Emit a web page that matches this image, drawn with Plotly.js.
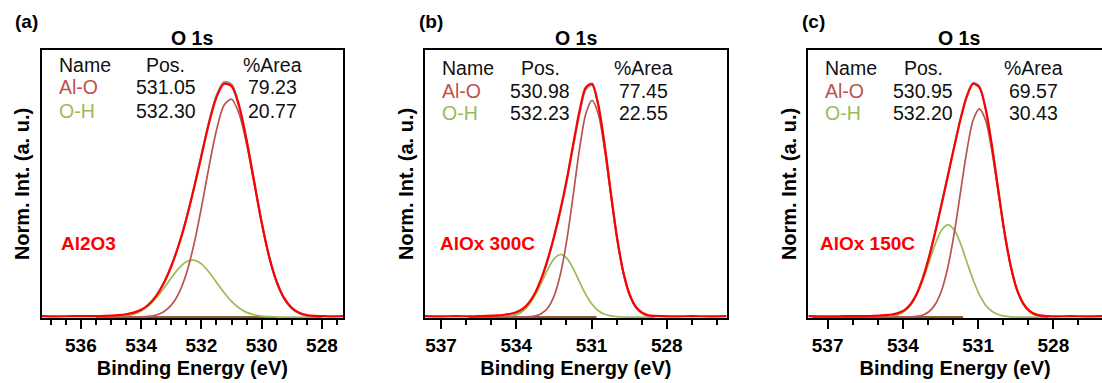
<!DOCTYPE html>
<html>
<head>
<meta charset="utf-8">
<script src="https://cdn.plot.ly/plotly-3.0.1.min.js"></script>
<style>
html,body{margin:0;padding:0;background:#fff;overflow:hidden;}
#chart{width:1102px;height:383px;}
</style>
</head>
<body>
<div id="chart"></div>
<script>
// ---------------- DATA ----------------
const panelLabels = ['(a)', '(b)', '(c)'];
const coreLevel = 'O 1s';
const samples = ['Al2O3', 'AlOx 300C', 'AlOx 150C'];
const tableHeader = ['Name', 'Pos.', '%Area'];
const compNames = ['Al-O', 'O-H'];
const a_pos = ['531.05', '532.30'];
const a_area = ['79.23', '20.77'];
const b_pos = ['530.98', '532.23'];
const b_area = ['77.45', '22.55'];
const c_pos = ['530.95', '532.20'];
const c_area = ['69.57', '30.43'];
const xTitle = 'Binding Energy (eV)';
const yTitle = 'Norm. Int. (a. u.)';

// panel (a)
const a_energy = [535.5, 535.25, 535.0, 534.75, 534.5, 534.25, 534.0, 533.75, 533.5, 533.25, 533.0, 532.75, 532.5, 532.25, 532.0, 531.75, 531.5, 531.25, 531.0, 530.75, 530.5, 530.25, 530.0, 529.75, 529.5, 529.25, 529.0, 528.75, 528.5, 528.25, 528.0];
const a_alo = [0, 0, 0, 0, 0, 0, 0.001, 0.003, 0.009, 0.023, 0.051, 0.102, 0.186, 0.310, 0.468, 0.643, 0.801, 0.908, 0.934, 0.873, 0.742, 0.573, 0.402, 0.256, 0.148, 0.078, 0.037, 0.016, 0.006, 0.002, 0.001];
const a_oh = [0, 0, 0.001, 0.002, 0.006, 0.013, 0.027, 0.049, 0.081, 0.122, 0.168, 0.209, 0.237, 0.244, 0.228, 0.193, 0.149, 0.105, 0.067, 0.039, 0.020, 0.010, 0.004, 0.002, 0.001, 0, 0, 0, 0, 0, 0];
const a_fit = [0, 0, 0.001, 0.002, 0.006, 0.013, 0.028, 0.052, 0.090, 0.145, 0.219, 0.311, 0.423, 0.554, 0.696, 0.836, 0.950, 1.008, 0.998, 0.910, 0.762, 0.583, 0.406, 0.258, 0.149, 0.078, 0.037, 0.016, 0.006, 0.002, 0.001];
const a_data_energy = [537.3, 536.8, 536.3, 535.8, 535.5, 535.25, 535.0, 534.75, 534.5, 534.25, 534.0, 533.75, 533.5, 533.25, 533.0, 532.75, 532.5, 532.25, 532.0, 531.75, 531.5, 531.25, 531.0, 530.75, 530.5, 530.25, 530.0, 529.75, 529.5, 529.25, 529.0, 528.75, 528.5, 528.25, 528.0, 527.7, 527.3];
const a_data = [0.004, 0.003, 0.004, 0.004, 0.004, 0.005, 0.006, 0.008, 0.012, 0.019, 0.031, 0.054, 0.091, 0.145, 0.218, 0.309, 0.420, 0.550, 0.690, 0.830, 0.942, 1.000, 0.990, 0.905, 0.758, 0.582, 0.407, 0.260, 0.152, 0.081, 0.040, 0.019, 0.009, 0.005, 0.004, 0.003, 0.004];
const a_bg_energy = [535.3, 529.5];
const a_bg = [0, 0];

// panel (b)
const b_energy = [535.48, 535.23, 534.98, 534.73, 534.48, 534.23, 533.98, 533.73, 533.48, 533.23, 532.98, 532.73, 532.48, 532.23, 531.98, 531.73, 531.48, 531.23, 530.98, 530.73, 530.48, 530.23, 529.98, 529.73, 529.48, 529.23, 528.98, 528.73, 528.48];
const b_alo = [0, 0, 0, 0, 0, 0, 0, 0, 0.002, 0.005, 0.016, 0.041, 0.094, 0.189, 0.334, 0.523, 0.720, 0.871, 0.929, 0.871, 0.720, 0.523, 0.334, 0.189, 0.094, 0.041, 0.016, 0.005, 0.002];
const b_oh = [0, 0, 0, 0, 0.002, 0.005, 0.012, 0.027, 0.055, 0.097, 0.151, 0.208, 0.252, 0.269, 0.252, 0.208, 0.151, 0.097, 0.055, 0.027, 0.012, 0.005, 0.002, 0, 0, 0, 0, 0, 0];
const b_fit = [0, 0, 0, 0, 0.002, 0.005, 0.012, 0.027, 0.057, 0.102, 0.167, 0.249, 0.346, 0.458, 0.586, 0.731, 0.871, 0.975, 0.995, 0.905, 0.735, 0.530, 0.336, 0.189, 0.094, 0.041, 0.016, 0.005, 0.002];
const b_data_energy = [537.64, 537.0, 536.4, 535.8, 535.48, 535.23, 534.98, 534.73, 534.48, 534.23, 533.98, 533.73, 533.48, 533.23, 532.98, 532.73, 532.48, 532.23, 531.98, 531.73, 531.48, 531.23, 530.98, 530.73, 530.48, 530.23, 529.98, 529.73, 529.48, 529.23, 528.98, 528.73, 528.48, 528.2, 527.6, 527.0, 526.3, 525.61];
const b_data = [0.004, 0.003, 0.004, 0.003, 0.004, 0.005, 0.006, 0.007, 0.010, 0.014, 0.022, 0.036, 0.064, 0.108, 0.172, 0.254, 0.352, 0.465, 0.594, 0.741, 0.883, 0.985, 1.000, 0.910, 0.740, 0.533, 0.340, 0.192, 0.097, 0.044, 0.019, 0.008, 0.005, 0.004, 0.003, 0.004, 0.003, 0.004];
const b_bg_energy = [535.9, 530.8];
const b_bg = [0, 0];

// panel (c)
const c_energy = [535.45, 535.20, 534.95, 534.70, 534.45, 534.20, 533.95, 533.70, 533.45, 533.20, 532.95, 532.70, 532.45, 532.20, 531.95, 531.70, 531.45, 531.20, 530.95, 530.70, 530.45, 530.20, 529.95, 529.70, 529.45, 529.20, 528.95, 528.70, 528.45, 528.20];
const c_alo = [0, 0, 0, 0, 0, 0, 0, 0.001, 0.003, 0.009, 0.024, 0.056, 0.116, 0.217, 0.361, 0.537, 0.712, 0.844, 0.893, 0.844, 0.712, 0.537, 0.361, 0.217, 0.116, 0.056, 0.024, 0.009, 0.003, 0.001];
const c_oh = [0, 0, 0, 0.001, 0.004, 0.011, 0.025, 0.051, 0.096, 0.160, 0.237, 0.315, 0.373, 0.395, 0.373, 0.315, 0.237, 0.160, 0.096, 0.051, 0.025, 0.011, 0.004, 0.001, 0, 0, 0, 0, 0, 0];
const c_fit = [0, 0, 0, 0.001, 0.004, 0.011, 0.025, 0.052, 0.099, 0.169, 0.261, 0.371, 0.489, 0.612, 0.734, 0.852, 0.949, 1.004, 0.989, 0.895, 0.737, 0.548, 0.365, 0.218, 0.116, 0.056, 0.024, 0.009, 0.003, 0.001];
const c_data_energy = [537.77, 537.0, 536.3, 535.8, 535.45, 535.20, 534.95, 534.70, 534.45, 534.20, 533.95, 533.70, 533.45, 533.20, 532.95, 532.70, 532.45, 532.20, 531.95, 531.70, 531.45, 531.20, 530.95, 530.70, 530.45, 530.20, 529.95, 529.70, 529.45, 529.20, 528.95, 528.70, 528.45, 528.20, 527.9, 527.3, 526.7, 526.06];
const c_data = [0.004, 0.003, 0.004, 0.004, 0.004, 0.005, 0.006, 0.008, 0.011, 0.017, 0.029, 0.054, 0.099, 0.168, 0.259, 0.368, 0.486, 0.608, 0.730, 0.848, 0.945, 1.000, 0.985, 0.892, 0.735, 0.548, 0.366, 0.220, 0.119, 0.059, 0.027, 0.012, 0.006, 0.004, 0.003, 0.004, 0.003, 0.004];
const c_bg_energy = [537.6, 531.6];
const c_bg = [0, 0];

// ---------------- STYLE / LAYOUT ----------------
const W = 1102, H = 383;
const FONT = 'Liberation Sans, Arial, Helvetica, sans-serif';
const RED = 'rgb(255,0,0)';
const ALO_LINE = 'rgb(184,84,80)';
const OH_LINE = 'rgb(155,187,89)';
const ALO_TEXT = 'rgb(192,80,77)';
const OH_TEXT = 'rgb(155,187,89)';
const GRAY = 'rgb(150,150,150)';
const BG = 'rgb(150,95,40)';

const panels = [
  {E: a_energy, alo: a_alo, oh: a_oh, fit: a_fit, dE: a_data_energy, d: a_data, bgE: a_bg_energy, bg: a_bg,
   pos: a_pos, area: a_area, x0: 41.7, x1: 343, range: [537.3, 527.3], dtick: 2, tick0: 0, minor: 0.5, mirrorY: true,
   nameX: 57.3, posC: 165.5, areaC: 272.5, rows: [65, 87.3, 110.7], labX: 13, titC: 192.3, smpX: 59.3},
  {E: b_energy, alo: b_alo, oh: b_oh, fit: b_fit, dE: b_data_energy, d: b_data, bgE: b_bg_energy, bg: b_bg,
   pos: b_pos, area: b_area, x0: 425, x1: 726.7, range: [537.64, 525.61], dtick: 3, tick0: 528, minor: 1, mirrorY: true,
   nameX: 440, posC: 540, areaC: 643.5, rows: [67.7, 90.7, 113.3], labX: 416.7, titC: 575.8, smpX: 438.3},
  {E: c_energy, alo: c_alo, oh: c_oh, fit: c_fit, dE: c_data_energy, d: c_data, bgE: c_bg_energy, bg: c_bg,
   pos: c_pos, area: c_area, x0: 808.3, x1: 1102, range: [537.77, 526.06], dtick: 3, tick0: 528, minor: 1, mirrorY: false,
   nameX: 823.3, posC: 923, areaC: 1033.5, rows: [68.3, 90.7, 113.3], labX: 800, titC: 959.2, smpX: 817.7}
];

const yTop = 50, yBot = 318;
const TABLE_SIZE = 19.5;
const traces = [];
const layout = {
  width: W, height: H,
  margin: {l: 0, r: 0, t: 0, b: 0, pad: 0},
  paper_bgcolor: '#fff', plot_bgcolor: '#fff',
  showlegend: false,
  font: {family: FONT, color: '#000'},
  annotations: []
};

function ann(x, y, text, xanchor, font) {
  return {xref: 'paper', yref: 'paper', x: x / W, y: 1 - y / H, text: text, showarrow: false,
          xanchor: xanchor, yanchor: 'middle', font: Object.assign({family: FONT}, font)};
}

panels.forEach((p, i) => {
  const n = i === 0 ? '' : String(i + 1);
  const xa = 'x' + n, ya = 'y' + n;
  const sp = {mode: 'lines', xaxis: xa, yaxis: ya, hoverinfo: 'skip'};
  traces.push(Object.assign({x: p.bgE, y: p.bg, line: {color: BG, width: 2}}, sp));
  traces.push(Object.assign({x: p.E, y: p.fit, line: {color: GRAY, width: 2, shape: 'spline', smoothing: 0.8}}, sp));
  traces.push(Object.assign({x: p.E, y: p.oh, line: {color: OH_LINE, width: 1.7, shape: 'spline', smoothing: 0.8}}, sp));
  traces.push(Object.assign({x: p.E, y: p.alo, line: {color: ALO_LINE, width: 1.7, shape: 'spline', smoothing: 0.8}}, sp));
  traces.push(Object.assign({x: p.dE, y: p.d, line: {color: RED, width: 2.2, shape: 'spline', smoothing: 0.8}}, sp));

  layout['xaxis' + n] = {
    domain: [p.x0 / W, p.x1 / W], anchor: ya, range: p.range, autorange: false,
    showline: true, linecolor: '#000', linewidth: 2, mirror: true,
    ticks: 'outside', ticklen: 9, tickwidth: 2, tickcolor: '#000',
    tick0: p.tick0, dtick: p.dtick,
    minor: {dtick: p.minor, tick0: p.tick0, ticks: 'outside', ticklen: 5, tickwidth: 2, tickcolor: '#000', showgrid: false},
    tickfont: {family: FONT, size: 19, weight: 'bold', color: '#000'},
    showgrid: false, zeroline: false, fixedrange: true,
    title: {text: xTitle, font: {family: FONT, size: 20, weight: 'bold', color: '#000'}, standoff: 6}
  };
  layout['yaxis' + n] = {
    domain: [1 - yBot / H, 1 - yTop / H], anchor: xa, range: [-0.004, 1.145], autorange: false,
    showline: true, linecolor: '#000', linewidth: 2, mirror: p.mirrorY,
    ticks: '', showticklabels: false, showgrid: false, zeroline: false, fixedrange: true,
    title: {text: yTitle, font: {family: FONT, size: 20, weight: 'bold', color: '#000'}, standoff: 4.5}
  };

  const A = layout.annotations;
  A.push(ann(p.labX, 21, panelLabels[i], 'left', {size: 19, weight: 'bold', color: '#000'}));
  A.push(ann(p.titC, 38.3, coreLevel, 'center', {size: 19.5, weight: 'bold', color: '#000'}));
  A.push(ann(p.nameX, p.rows[0], tableHeader[0], 'left', {size: TABLE_SIZE, color: '#111'}));
  A.push(ann(p.posC, p.rows[0], tableHeader[1], 'center', {size: TABLE_SIZE, color: '#111'}));
  A.push(ann(p.areaC, p.rows[0], tableHeader[2], 'center', {size: TABLE_SIZE, color: '#111'}));
  const cols = [ALO_TEXT, OH_TEXT];
  for (let r = 0; r < 2; r++) {
    A.push(ann(p.nameX, p.rows[r + 1], compNames[r], 'left', {size: TABLE_SIZE, color: cols[r]}));
    A.push(ann(p.posC, p.rows[r + 1], p.pos[r], 'center', {size: TABLE_SIZE, color: '#111'}));
    A.push(ann(p.areaC, p.rows[r + 1], p.area[r], 'center', {size: TABLE_SIZE, color: '#111'}));
  }
  A.push(ann(p.smpX, 243.3, samples[i], 'left', {size: 19, weight: 'bold', color: RED}));
});

Plotly.newPlot('chart', traces, layout, {displayModeBar: false, staticPlot: true});
</script>
</body>
</html>
